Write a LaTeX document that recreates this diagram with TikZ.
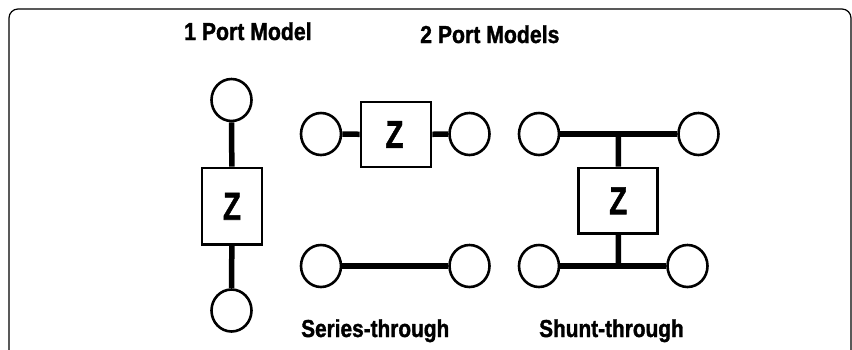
\documentclass[tikz,border=0pt]{standalone}
\usepackage{fontspec}
\setmainfont{Liberation Sans}
\newfontfamily\heavyfont[FakeBold=1.5]{Liberation Sans Bold}
\usetikzlibrary{shapes.geometric}
\tikzset{
  x=1pt,y=-1pt,
  port/.style={draw=black,line width=2.6pt,ellipse,inner sep=0pt,minimum width=40pt,minimum height=42pt},
  zbox/.style={draw=black,line width=2.8pt,rectangle,inner sep=0pt,font=\fontsize{39}{39}\heavyfont},
  wire/.style={draw=black,line width=5.5pt},
  lbl/.style={font=\fontsize{24.5}{26}\heavyfont,xscale=.85,transform shape,inner sep=0pt,anchor=base west},
  lblw/.style={lbl,xscale=1.02},
  frame/.style={draw=black,line width=1.2pt,rounded corners=9pt}
}
\newcommand{\zlabel}{\scalebox{.75}[1]{Z}}
\begin{document}
\begin{tikzpicture}
\useasboundingbox (0,0) rectangle (852,349);
\begin{scope}
\clip (0,0) rectangle (852,349);
\draw[frame] (9,360) -- (9,9) -- (851,9) -- (851,360);
\end{scope}
\node[lblw] (t1) at (184,40) {1 Port Model};
\node[lblw] (t2) at (420,43) {2 Port Models};
\node[lbl] (t3) at (301,337) {Series-through};
\node[lbl] (t4) at (539,337) {Shunt-through};
% 1 port
\node[port] (a1) at (231.5,100) {};
\node[port] (a2) at (231.5,310.5) {};
\node[zbox,minimum width=60pt,minimum height=76.5pt] (az) at (232,206.3) {\zlabel};
\draw[wire] (a1) -- (az);
\draw[wire] (az) -- (a2);
% series
\node[port] (b1) at (321,134) {};
\node[port] (b2) at (469.5,134) {};
\node[zbox,minimum width=70pt,minimum height=65pt] (bz) at (396,134.5) {\hspace*{-3pt}\zlabel};
\draw[wire] (b1) -- (bz);
\draw[wire] (bz) -- (b2);
\node[port] (b3) at (321,266) {};
\node[port] (b4) at (469.5,266) {};
\draw[wire] (b3) -- (b4);
% shunt
\node[port] (c1) at (539,134) {};
\node[port] (c2) at (698.5,134) {};
\node[port] (c3) at (539,266) {};
\node[port] (c4) at (687.5,266) {};
\node[zbox,minimum width=79pt,minimum height=65.5pt] (cz) at (618.2,200.8) {\zlabel};
\coordinate (j1) at (618.5,134);
\coordinate (j2) at (618.5,266);
\draw[wire] (c1) -- (c2);
\draw[wire] (c3) -- (c4);
\draw[wire] (j1) -- (cz);
\draw[wire] (cz) -- (j2);
\end{tikzpicture}
\end{document}
